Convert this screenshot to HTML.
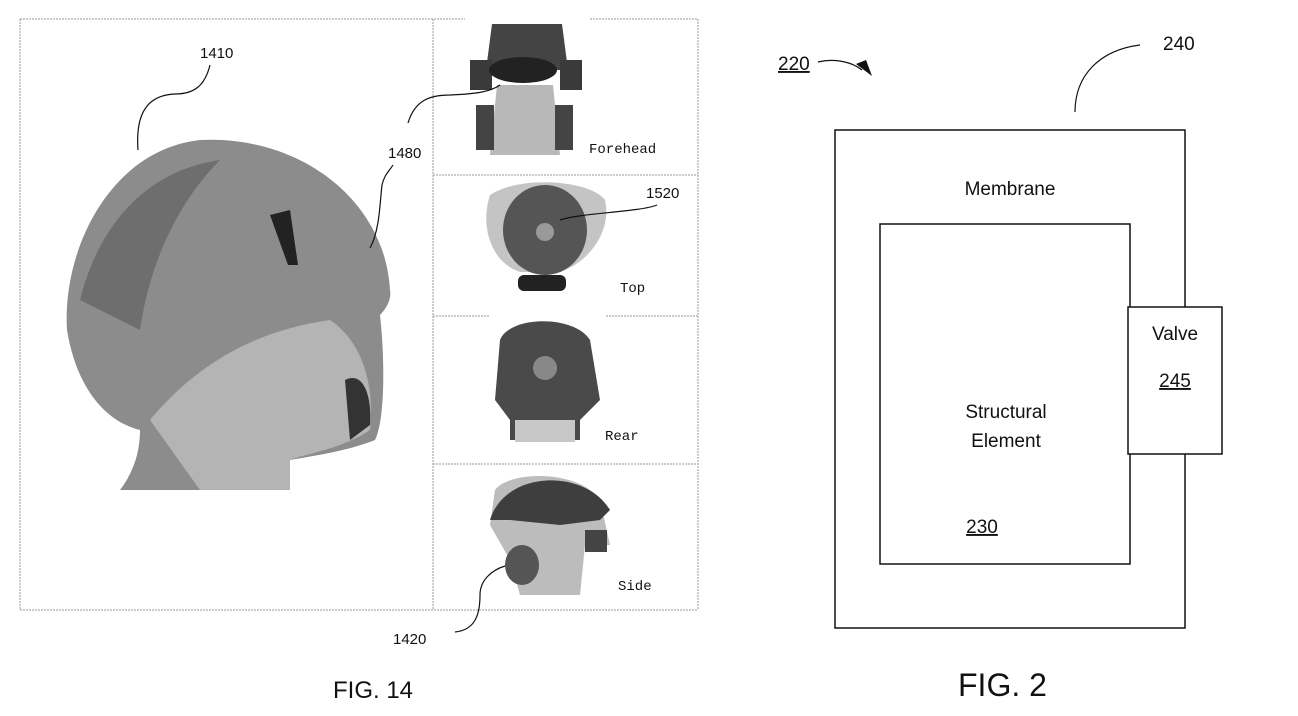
<!DOCTYPE html>
<html><head><meta charset="utf-8"><style>
html,body{margin:0;padding:0;background:#fff;}
svg{display:block;}
text{font-family:"Liberation Sans",sans-serif;fill:#111;}
</style></head><body>
<svg width="1298" height="716" viewBox="0 0 1298 716" xmlns="http://www.w3.org/2000/svg">
<defs>
<pattern id="dots" width="3" height="3" patternUnits="userSpaceOnUse"><rect width="3" height="3" fill="#9a9a9a"/><rect width="1" height="1" fill="#ddd"/></pattern>
</defs>
<g stroke="#999" stroke-width="1" stroke-dasharray="2,1" fill="none">
<line x1="20" y1="19" x2="465" y2="19"/><line x1="590" y1="19" x2="698" y2="19"/>
<line x1="20" y1="19" x2="20" y2="610"/><line x1="20" y1="610" x2="698" y2="610"/>
<line x1="698" y1="19" x2="698" y2="610"/><line x1="433" y1="19" x2="433" y2="610"/>
<line x1="433" y1="175" x2="698" y2="175"/>
<line x1="433" y1="316" x2="490" y2="316"/><line x1="606" y1="316" x2="698" y2="316"/>
<line x1="433" y1="464" x2="698" y2="464"/>
</g>
<!-- main head -->
<path d="M120,490 C135,470 140,450 140,430 C100,420 75,380 67,330 C62,250 110,150 200,140 C300,135 385,200 390,290 C392,300 385,310 380,315 C385,360 385,420 375,440 C350,450 320,455 290,460 L290,490 Z" fill="#8c8c8c"/>
<path d="M150,420 C200,360 260,330 330,320 C360,340 375,380 370,430 C340,450 300,455 290,460 L290,490 L200,490 Z" fill="#b4b4b4"/>
<path d="M80,300 C100,220 150,170 220,160 C180,200 150,260 140,330 Z" fill="#6e6e6e"/>
<path d="M270,215 L290,210 L298,265 L288,265 Z" fill="#222"/>
<path d="M345,380 C365,370 372,400 370,425 L350,440 Z" fill="#333"/>
<!-- forehead view -->
<g>
<path d="M492,24 L562,24 L568,70 L486,70 Z" fill="#444"/>
<rect x="470" y="60" width="22" height="30" fill="#3a3a3a"/><rect x="560" y="60" width="22" height="30" fill="#3a3a3a"/>
<ellipse cx="523" cy="70" rx="34" ry="13" fill="#222"/>
<path d="M497,85 L553,85 L560,155 L490,155 Z" fill="#b8b8b8"/>
<rect x="476" y="105" width="18" height="45" fill="#444"/><rect x="555" y="105" width="18" height="45" fill="#444"/>
</g>
<!-- top view -->
<path d="M490,195 C520,175 590,180 605,200 C612,230 590,262 560,272 L520,272 C490,262 480,225 490,195 Z" fill="#c4c4c4"/>
<ellipse cx="545" cy="230" rx="42" ry="45" fill="#555"/>
<circle cx="545" cy="232" r="9" fill="#999"/>
<rect x="518" y="275" width="48" height="16" rx="6" fill="#222"/>
<!-- rear view -->
<path d="M500,340 C510,315 575,315 590,340 L600,400 L580,420 L580,440 L510,440 L510,420 L495,400 Z" fill="#4a4a4a"/>
<circle cx="545" cy="368" r="12" fill="#888"/>
<rect x="515" y="420" width="60" height="22" fill="#c8c8c8"/>
<!-- side view -->
<path d="M495,490 C510,470 580,470 600,500 L610,545 L585,545 L580,595 L520,595 L510,560 L490,525 Z" fill="#bcbcbc"/>
<path d="M490,520 C505,470 585,468 610,510 L600,520 L560,525 L510,520 Z" fill="#3e3e3e"/>
<ellipse cx="522" cy="565" rx="17" ry="20" fill="#555"/>
<rect x="585" y="530" width="22" height="22" fill="#444"/>
<!-- panel labels -->
<g font-family="Liberation Mono,monospace" font-size="14">
<text x="589" y="153" style="font-family:'Liberation Mono',monospace">Forehead</text>
<text x="620" y="292" style="font-family:'Liberation Mono',monospace">Top</text>
<text x="605" y="440" style="font-family:'Liberation Mono',monospace">Rear</text>
<text x="618" y="590" style="font-family:'Liberation Mono',monospace">Side</text>
</g>
<!-- leaders -->
<g stroke="#111" stroke-width="1.2" fill="none">
<path d="M138,150 C135,110 150,95 175,94 C195,94 205,85 210,65"/>
<path d="M370,248 C380,230 380,200 382,185 C384,175 390,170 393,165"/>
<path d="M408,123 C415,100 430,95 450,95 C475,94 490,92 500,85"/>
<path d="M560,220 C580,213 640,212 657,205"/>
<path d="M455,632 C475,630 480,615 480,595 C480,580 492,570 505,566"/>
<path d="M1075,112 C1075,75 1100,50 1140,45"/>
<path d="M818,62 C835,58 852,62 862,70"/>
</g>
<path d="M856,64 L872,76 L866,60 Z" fill="#111"/>
<text x="200" y="58" font-size="15">1410</text>
<text x="388" y="158" font-size="15">1480</text>
<text x="646" y="198" font-size="15">1520</text>
<text x="393" y="644" font-size="15">1420</text>
<text x="333" y="698" font-size="24">FIG. 14</text>
<!-- FIG 2 -->
<rect x="835" y="130" width="350" height="498" fill="none" stroke="#111" stroke-width="1.5"/>
<rect x="880" y="224" width="250" height="340" fill="none" stroke="#111" stroke-width="1.5"/>
<rect x="1128" y="307" width="94" height="147" fill="#fff" stroke="#111" stroke-width="1.5"/>
<text x="1010" y="195" font-size="19" text-anchor="middle">Membrane</text>
<text x="1006" y="418" font-size="19" text-anchor="middle">Structural</text>
<text x="1006" y="447" font-size="19" text-anchor="middle">Element</text>
<text x="982" y="533" font-size="19" text-anchor="middle" text-decoration="underline">230</text>
<text x="1175" y="340" font-size="19" text-anchor="middle">Valve</text>
<text x="1175" y="387" font-size="19" text-anchor="middle" text-decoration="underline">245</text>
<text x="778" y="70" font-size="19" text-decoration="underline">220</text>
<text x="1163" y="50" font-size="19">240</text>
<text x="958" y="696" font-size="32">FIG. 2</text>
</svg>
</body></html>
